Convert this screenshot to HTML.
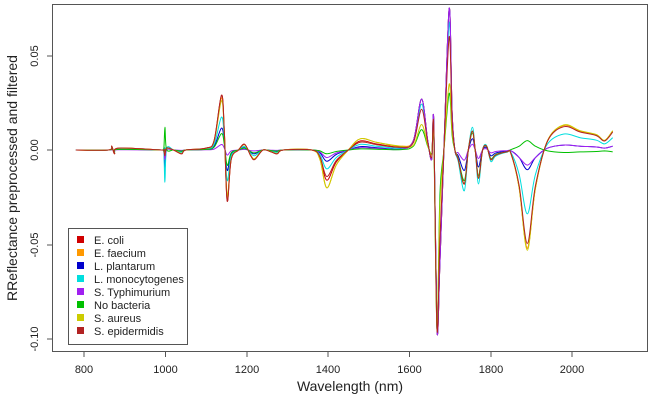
<!DOCTYPE html>
<html><head><meta charset="utf-8"><style>
body{margin:0;background:#fff;}
svg{display:block;font-family:"Liberation Sans",sans-serif;}
</style></head><body>
<svg id="s" width="650" height="400" viewBox="0 0 650 400">
<rect x="0" y="0" width="650" height="400" fill="#fff"/>
<g id="lines"></g>
<rect x="52.5" y="4.5" width="595" height="347" fill="none" stroke="#555" stroke-width="1"/>
<g stroke="#555" stroke-width="1">
<line x1="84" y1="352" x2="84" y2="357"/><line x1="165.5" y1="352" x2="165.5" y2="357"/><line x1="247" y1="352" x2="247" y2="357"/><line x1="328" y1="352" x2="328" y2="357"/><line x1="409.5" y1="352" x2="409.5" y2="357"/><line x1="491" y1="352" x2="491" y2="357"/><line x1="572" y1="352" x2="572" y2="357"/>
<line x1="47" y1="56" x2="52.5" y2="56"/><line x1="47" y1="150" x2="52.5" y2="150"/><line x1="47" y1="245" x2="52.5" y2="245"/><line x1="47" y1="339" x2="52.5" y2="339"/>
</g>
<g font-size="11" fill="#222" text-anchor="middle">
<text x="84" y="373">800</text><text x="165.5" y="373">1000</text><text x="247" y="373">1200</text><text x="328" y="373">1400</text><text x="409.5" y="373">1600</text><text x="491" y="373">1800</text><text x="572" y="373">2000</text>
<text transform="translate(38,56) rotate(-90)">0.05</text>
<text transform="translate(38,150) rotate(-90)">0.00</text>
<text transform="translate(38,245) rotate(-90)">-0.05</text>
<text transform="translate(38,339) rotate(-90)">-0.10</text>
</g>
<text x="350" y="391" font-size="14" text-anchor="middle" fill="#222">Wavelength (nm)</text>
<text transform="translate(17,178) rotate(-90)" font-size="14" text-anchor="middle" fill="#222">RReflectance preprocessed and filtered</text>
<rect x="68.5" y="228.5" width="119" height="116" fill="#fff" stroke="#555"/>
<g font-size="11" fill="#222" id="leg"></g>
</svg>
<script>
var base=[[780,0],[860,0],[868,2],[875,-2],[885,1],[990,0],[996,0],[999,-3],[1003,1],[1020,0],[1040,-2],[1050,0],[1100,1],[1120,5],[1138,29],[1145,10],[1152,-27],[1162,-5],[1180,0],[1195,3],[1210,-3],[1220,-5],[1240,0],[1260,-1],[1275,-2],[1290,0],[1360,0],[1380,-5],[1397,-20],[1420,-8],[1450,0],[1480,6],[1520,4],[1580,2],[1610,5],[1630,27],[1645,5],[1655,-5],[1660,15],[1668,-95],[1675,-60],[1685,0],[1698,75],[1705,20],[1712,0],[1720,-5],[1735,-18],[1745,0],[1755,10],[1762,0],[1770,-15],[1780,0],[1790,2],[1800,-5],[1810,-3],[1820,-2],[1840,-1],[1850,-2],[1870,-20],[1890,-52],[1910,-20],[1940,5],[1980,13],[2020,10],[2060,8],[2080,5],[2100,10]];
var ser=[
["E. coli","#d00000",[1,0.8,1,1,1],0],
["E. faecium","#ff9900",[0.95,1,1,1,1],0],
["L. plantarum","#0000cc",[0.4,0.3,1,0.6,0.2],-10],
["L. monocytogenes","#00dede",[0.6,0.5,0.9,1.2,0.65],-17],
["S. Typhimurium","#a020f0",[0.1,0.2,1,0.3,0.2],-5],
["No bacteria","#00c000",[0.3,0.1,0.4,0.9,-0.1],12],
["S. aureus","#cccc00",[0.9,1,0.5,1,1.02],0],
["S. epidermidis","#b22222",[1,0.7,0.8,1,0.95],0]];
function X(w){return 84+(w-800)*0.4067;}
function Y(v){return 150-v*1.89;}
function reg(w){return w<1300?0:w<1600?1:w<1720?2:w<1850?3:4;}
var g=document.getElementById('lines'),ns="http://www.w3.org/2000/svg",leg=document.getElementById('leg');
ser.forEach(function(s,i){
 var P=[];
 base.forEach(function(p){var w=p[0],v=p[1]*s[2][reg(w)];
  if(w==999&&s[3])v=s[3]; if(w>=1690&&w<=1700&&i==6)v=35; if(w==1668&&i>=2)v=-95;
  if(i==5&&w==1890)v=5; if(i==4&&w==1890)v=-8;
  P.push([X(w),Y(v)]);});
 var d="M"+P[0][0].toFixed(1)+","+P[0][1].toFixed(1);
 for(var k=0;k<P.length-1;k++){
  var p0=P[Math.max(0,k-1)],p1=P[k],p2=P[k+1],p3=P[Math.min(P.length-1,k+2)];
  var c1x=p1[0]+(p2[0]-p0[0])/6,c1y=p1[1]+(p2[1]-p0[1])/6,c2x=p2[0]-(p3[0]-p1[0])/6,c2y=p2[1]-(p3[1]-p1[1])/6;
  d+=" C"+c1x.toFixed(1)+","+c1y.toFixed(1)+" "+c2x.toFixed(1)+","+c2y.toFixed(1)+" "+p2[0].toFixed(1)+","+p2[1].toFixed(1);
 }
 var pl=document.createElementNS(ns,"path");pl.setAttribute("d",d);
 pl.setAttribute("fill","none");pl.setAttribute("stroke",s[1]);pl.setAttribute("stroke-width","1");
 g.appendChild(pl);
 var y=240+i*13;
 var r=document.createElementNS(ns,"rect");r.setAttribute("x",77);r.setAttribute("y",y-4);r.setAttribute("width",7);r.setAttribute("height",7);r.setAttribute("fill",s[1]);leg.appendChild(r);
 var t=document.createElementNS(ns,"text");t.setAttribute("x",94);t.setAttribute("y",y+4);t.textContent=s[0];leg.appendChild(t);
});
</script>
</body></html>
